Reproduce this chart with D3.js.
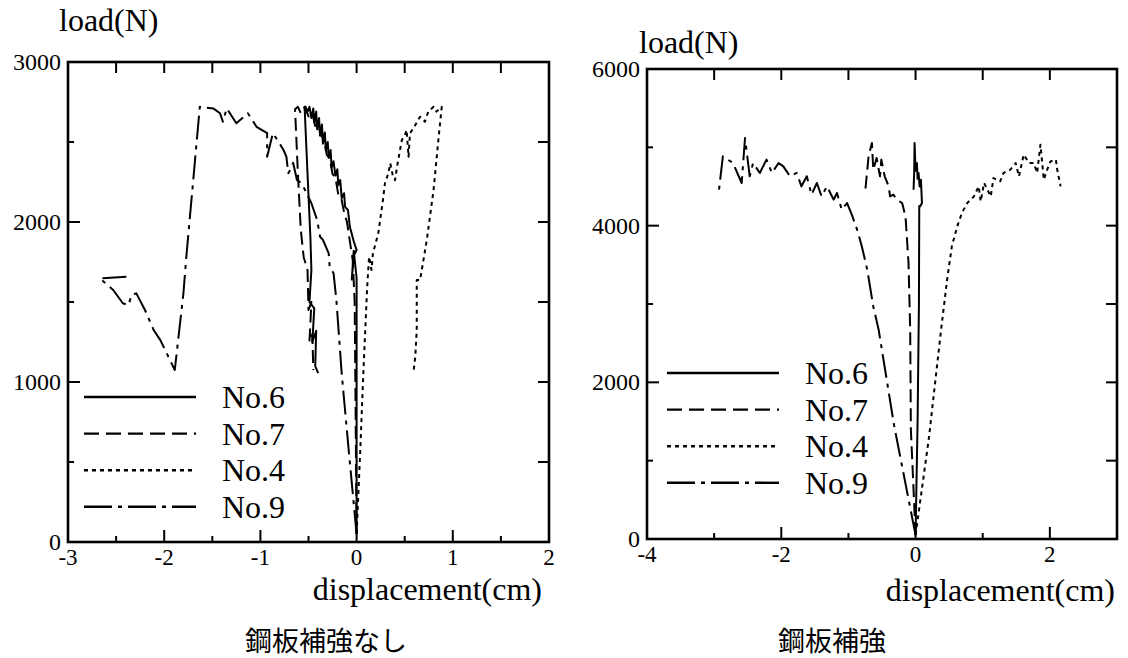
<!DOCTYPE html>
<html>
<head>
<meta charset="utf-8">
<script src="https://cdn.jsdelivr.net/npm/d3@7"></script>
<style>
  body { margin: 0; background: #fff; }
  svg { display: block; }
</style>
</head>
<body>
<svg width="1128" height="658"></svg>
<script>
// series names and legend order
const seriesNames = ["No.6", "No.7", "No.4", "No.9"];

// left chart: 鋼板補強なし   [displacement(cm), load(N)]
const leftNo6 = [
  [0, 50], [0, 700], [0, 1300], [0.0, 1650], [-0.03, 1820], [-0.05, 1640], [-0.03, 1790],
  [0.0, 1825], [-0.03, 1880], [-0.07, 1970], [-0.09, 2075], [-0.12, 2095], [-0.13, 2180],
  [-0.155, 2150], [-0.17, 2262], [-0.19, 2230], [-0.2, 2330], [-0.22, 2290], [-0.24, 2380],
  [-0.26, 2340], [-0.27, 2450], [-0.29, 2400], [-0.3, 2500], [-0.32, 2450], [-0.33, 2560],
  [-0.35, 2490], [-0.36, 2610], [-0.38, 2540], [-0.39, 2650], [-0.41, 2580], [-0.42, 2690],
  [-0.44, 2620], [-0.45, 2710], [-0.47, 2650], [-0.49, 2720], [-0.51, 2690], [-0.53, 2720],
  [-0.54, 2710], [-0.51, 2300], [-0.48, 1900], [-0.47, 1700], [-0.49, 1500], [-0.44, 1460],
  [-0.46, 1250], [-0.42, 1320], [-0.43, 1100], [-0.4, 1055]
];
const leftNo7 = [
  [0, 50], [-0.01, 800], [-0.02, 1500], [-0.04, 1760], [-0.07, 1880], [-0.1, 2000],
  [-0.13, 2060], [-0.16, 2150], [-0.19, 2170], [-0.22, 2280], [-0.25, 2300], [-0.28, 2400],
  [-0.31, 2420], [-0.34, 2520], [-0.37, 2540], [-0.4, 2610], [-0.43, 2600], [-0.46, 2680],
  [-0.5, 2660], [-0.54, 2720], [-0.58, 2680], [-0.61, 2720], [-0.64, 2705], [-0.61, 2300],
  [-0.58, 1950], [-0.55, 1780], [-0.51, 1700], [-0.5, 1450], [-0.47, 1500], [-0.49, 1250],
  [-0.46, 1300], [-0.45, 1075]
];
const leftNo4 = [
  [0, 50], [0.04, 600], [0.07, 1054], [0.11, 1596], [0.13, 1783], [0.155, 1700],
  [0.17, 1804], [0.225, 1929], [0.24, 1992], [0.27, 2120], [0.295, 2242], [0.33, 2304],
  [0.35, 2367], [0.38, 2280], [0.4, 2262], [0.42, 2345], [0.47, 2512], [0.5, 2540],
  [0.52, 2575], [0.54, 2408], [0.555, 2554], [0.61, 2606], [0.66, 2658], [0.71, 2627],
  [0.745, 2690], [0.8, 2720], [0.83, 2690], [0.885, 2720], [0.85, 2512], [0.8, 2200],
  [0.73, 1888], [0.66, 1637], [0.625, 1637], [0.625, 1325], [0.61, 1158], [0.59, 1054]
];
const leftNo9 = [
  [0, 50], [-0.08, 560], [-0.155, 1054], [-0.21, 1512], [-0.24, 1680], [-0.28, 1720],
  [-0.29, 1804], [-0.35, 1888], [-0.38, 1908], [-0.41, 2012], [-0.47, 2117], [-0.52, 2180],
  [-0.57, 2242], [-0.62, 2262], [-0.66, 2370], [-0.69, 2325], [-0.71, 2305], [-0.73, 2408],
  [-0.76, 2450], [-0.8, 2490], [-0.87, 2555], [-0.93, 2408], [-0.93, 2555], [-1.04, 2595],
  [-1.13, 2680], [-1.25, 2617], [-1.35, 2710], [-1.39, 2627], [-1.42, 2680], [-1.49, 2710],
  [-1.63, 2720], [-1.7, 2250], [-1.77, 1783], [-1.8, 1556], [-1.89, 1075], [-2.04, 1262],
  [-2.11, 1325], [-2.2, 1450], [-2.29, 1554], [-2.34, 1544], [-2.37, 1481], [-2.43, 1492],
  [-2.53, 1575], [-2.67, 1648], [-2.37, 1658]
];

// right chart: 鋼板補強
const rightNo6 = [
  [0, 50], [0.03, 1500], [0.05, 3000], [0.055, 4250], [0.07, 4247], [0.095, 4289],
  [0.08, 4587], [0.06, 4500], [0.045, 4673], [0.03, 4600], [0.02, 4800], [0.0, 4700],
  [-0.015, 5055], [-0.02, 4700], [-0.03, 4459]
];
const rightNo7 = [
  [0, 50], [-0.07, 1395], [-0.08, 2672], [-0.105, 3524], [-0.15, 4119], [-0.2, 4289],
  [-0.28, 4332], [-0.33, 4396], [-0.38, 4374], [-0.4, 4502], [-0.46, 4630], [-0.51, 4843],
  [-0.53, 4630], [-0.58, 4863], [-0.63, 4714], [-0.65, 5055], [-0.7, 4884], [-0.75, 4438]
];
const rightNo4 = [
  [0, 50], [0.2, 1300], [0.38, 2672], [0.47, 3310], [0.54, 3735], [0.62, 3990],
  [0.69, 4162], [0.77, 4289], [0.87, 4374], [0.94, 4502], [0.97, 4310], [1.02, 4545],
  [1.12, 4374], [1.16, 4608], [1.26, 4565], [1.31, 4673], [1.41, 4714], [1.49, 4800],
  [1.54, 4630], [1.61, 4906], [1.69, 4800], [1.76, 4800], [1.81, 4673], [1.86, 5034],
  [1.91, 4587], [1.96, 4714], [2.01, 4821], [2.09, 4843], [2.11, 4714], [2.16, 4502]
];
const rightNo9 = [
  [0, 50], [-0.32, 1450], [-0.55, 2672], [-0.63, 2969], [-0.72, 3438], [-0.8, 3735],
  [-0.87, 3949], [-0.95, 4140], [-1.02, 4289], [-1.1, 4204], [-1.17, 4417], [-1.22, 4332],
  [-1.32, 4502], [-1.4, 4374], [-1.47, 4545], [-1.55, 4396], [-1.62, 4630], [-1.7, 4502],
  [-1.77, 4673], [-1.87, 4630], [-1.97, 4757], [-2.04, 4800], [-2.14, 4673], [-2.22, 4843],
  [-2.32, 4673], [-2.42, 4800], [-2.47, 4630], [-2.54, 5119], [-2.59, 4545], [-2.72, 4800],
  [-2.87, 4884], [-2.93, 4438]
];

// axes
const leftXTicks = [-3, -2, -1, 0, 1, 2];
const leftYTicks = [0, 1000, 2000, 3000];
const rightXTicks = [-4, -2, 0, 2];
const rightYTicks = [0, 2000, 4000, 6000];

const serif = '"Liberation Serif", "Times New Roman", serif';
const cjk = '"Noto Sans CJK JP", "Noto Sans", sans-serif';
const dashes = ["none", "13,6", "4,4", "24,6,4,6"];
const legendDashes = ["none", "15,7", "4,4", "28,6,4,6"];

const svg = d3.select("svg");

function drawChart(cfg) {
  const x = d3.scaleLinear().domain(cfg.xDomain).range([cfg.left, cfg.right]);
  const y = d3.scaleLinear().domain(cfg.yDomain).range([cfg.bottom, cfg.top]);
  const g = svg.append("g");

  const clipId = "clip" + cfg.id;
  g.append("clipPath").attr("id", clipId)
    .append("rect")
    .attr("x", cfg.left).attr("y", cfg.top)
    .attr("width", cfg.right - cfg.left).attr("height", cfg.bottom - cfg.top);

  // curves
  const line = d3.line().x((d) => x(d[0])).y((d) => y(d[1]));
  g.append("g").attr("clip-path", `url(#${clipId})`)
    .selectAll("path")
    .data(cfg.series)
    .join("path")
    .attr("d", (d) => line(d))
    .attr("fill", "none")
    .attr("stroke", "#000")
    .attr("stroke-width", 2)
    .attr("stroke-linejoin", "round")
    .attr("stroke-dasharray", (d, i) => dashes[i]);

  // ticks, all pointing inward
  const xMinor = d3.range(cfg.xDomain[0], cfg.xDomain[1] + 1e-9, cfg.xMinorStep);
  const yMinor = d3.range(cfg.yDomain[0], cfg.yDomain[1] + 1e-9, cfg.yMinorStep);
  const isMajor = (v, list) => list.some((t) => Math.abs(t - v) < 1e-9);

  const tk = g.append("g").attr("stroke", "#000").attr("stroke-width", 2);
  tk.selectAll(".xb").data(xMinor).join("line")
    .attr("x1", (d) => x(d)).attr("x2", (d) => x(d))
    .attr("y1", cfg.bottom).attr("y2", (d) => cfg.bottom - (isMajor(d, cfg.xTicks) ? 12 : 6));
  tk.selectAll(".xt").data(xMinor).join("line")
    .attr("x1", (d) => x(d)).attr("x2", (d) => x(d))
    .attr("y1", cfg.top).attr("y2", cfg.top + 11);
  tk.selectAll(".yl").data(yMinor).join("line")
    .attr("y1", (d) => y(d)).attr("y2", (d) => y(d))
    .attr("x1", cfg.left).attr("x2", (d) => cfg.left + (isMajor(d, cfg.yTicks) ? 12 : 6));
  tk.selectAll(".yr").data(yMinor).join("line")
    .attr("y1", (d) => y(d)).attr("y2", (d) => y(d))
    .attr("x1", cfg.right).attr("x2", cfg.right - 11);

  // frame
  g.append("rect")
    .attr("x", cfg.left).attr("y", cfg.top)
    .attr("width", cfg.right - cfg.left).attr("height", cfg.bottom - cfg.top)
    .attr("fill", "none").attr("stroke", "#000").attr("stroke-width", 2.6);

  // tick labels
  g.selectAll(".xl").data(cfg.xTicks).join("text")
    .attr("x", (d) => x(d)).attr("y", cfg.bottom + 23)
    .attr("text-anchor", "middle")
    .style("font-family", serif).style("font-size", "23px")
    .text((d) => d);
  g.selectAll(".ylab").data(cfg.yTicks).join("text")
    .attr("x", cfg.left - 7).attr("y", (d) => y(d) + 8)
    .attr("text-anchor", "end")
    .style("font-family", serif).style("font-size", "24px")
    .text((d) => d);

  // titles
  g.append("text").attr("x", cfg.yTitle[0]).attr("y", cfg.yTitle[1])
    .style("font-family", serif).style("font-size", "32px").text("load(N)");
  g.append("text").attr("x", cfg.xTitle[0]).attr("y", cfg.xTitle[1])
    .attr("text-anchor", "end")
    .style("font-family", serif).style("font-size", "32px").text("displacement(cm)");
  g.append("text")
    .attr("x", cfg.caption[0]).attr("y", cfg.caption[1])
    .attr("text-anchor", "middle")
    .style("font-family", cjk).style("font-size", "27px")
    .text(cfg.captionText);

  // legend
  const lg = g.append("g").selectAll("g").data(seriesNames).join("g")
    .attr("transform", (d, i) => `translate(${cfg.legend[0]},${cfg.legend[1] + i * 36.6})`);
  lg.append("line")
    .attr("x1", 0).attr("x2", 112).attr("y1", 0).attr("y2", 0)
    .attr("stroke", "#000").attr("stroke-width", 2.4)
    .attr("stroke-dasharray", (d, i) => legendDashes[i]);
  lg.append("text").attr("x", 138).attr("y", 11)
    .style("font-family", serif).style("font-size", "32px")
    .text((d) => d);
}

drawChart({
  id: "L",
  xDomain: [-3, 2], yDomain: [0, 3000],
  left: 68, right: 549, top: 62, bottom: 542,
  xTicks: leftXTicks, yTicks: leftYTicks,
  xMinorStep: 0.5, yMinorStep: 500,
  series: [leftNo6, leftNo7, leftNo4, leftNo9],
  yTitle: [59, 31], xTitle: [542, 600],
  caption: [326, 651], captionText: "鋼板補強なし",
  legend: [84, 397]
});

drawChart({
  id: "R",
  xDomain: [-4, 3], yDomain: [0, 6000],
  left: 647, right: 1117, top: 69, bottom: 539,
  xTicks: rightXTicks, yTicks: rightYTicks,
  xMinorStep: 1, yMinorStep: 1000,
  series: [rightNo6, rightNo7, rightNo4, rightNo9],
  yTitle: [639, 53], xTitle: [1115, 601],
  caption: [832, 651], captionText: "鋼板補強",
  legend: [667, 373]
});
</script>
</body>
</html>
